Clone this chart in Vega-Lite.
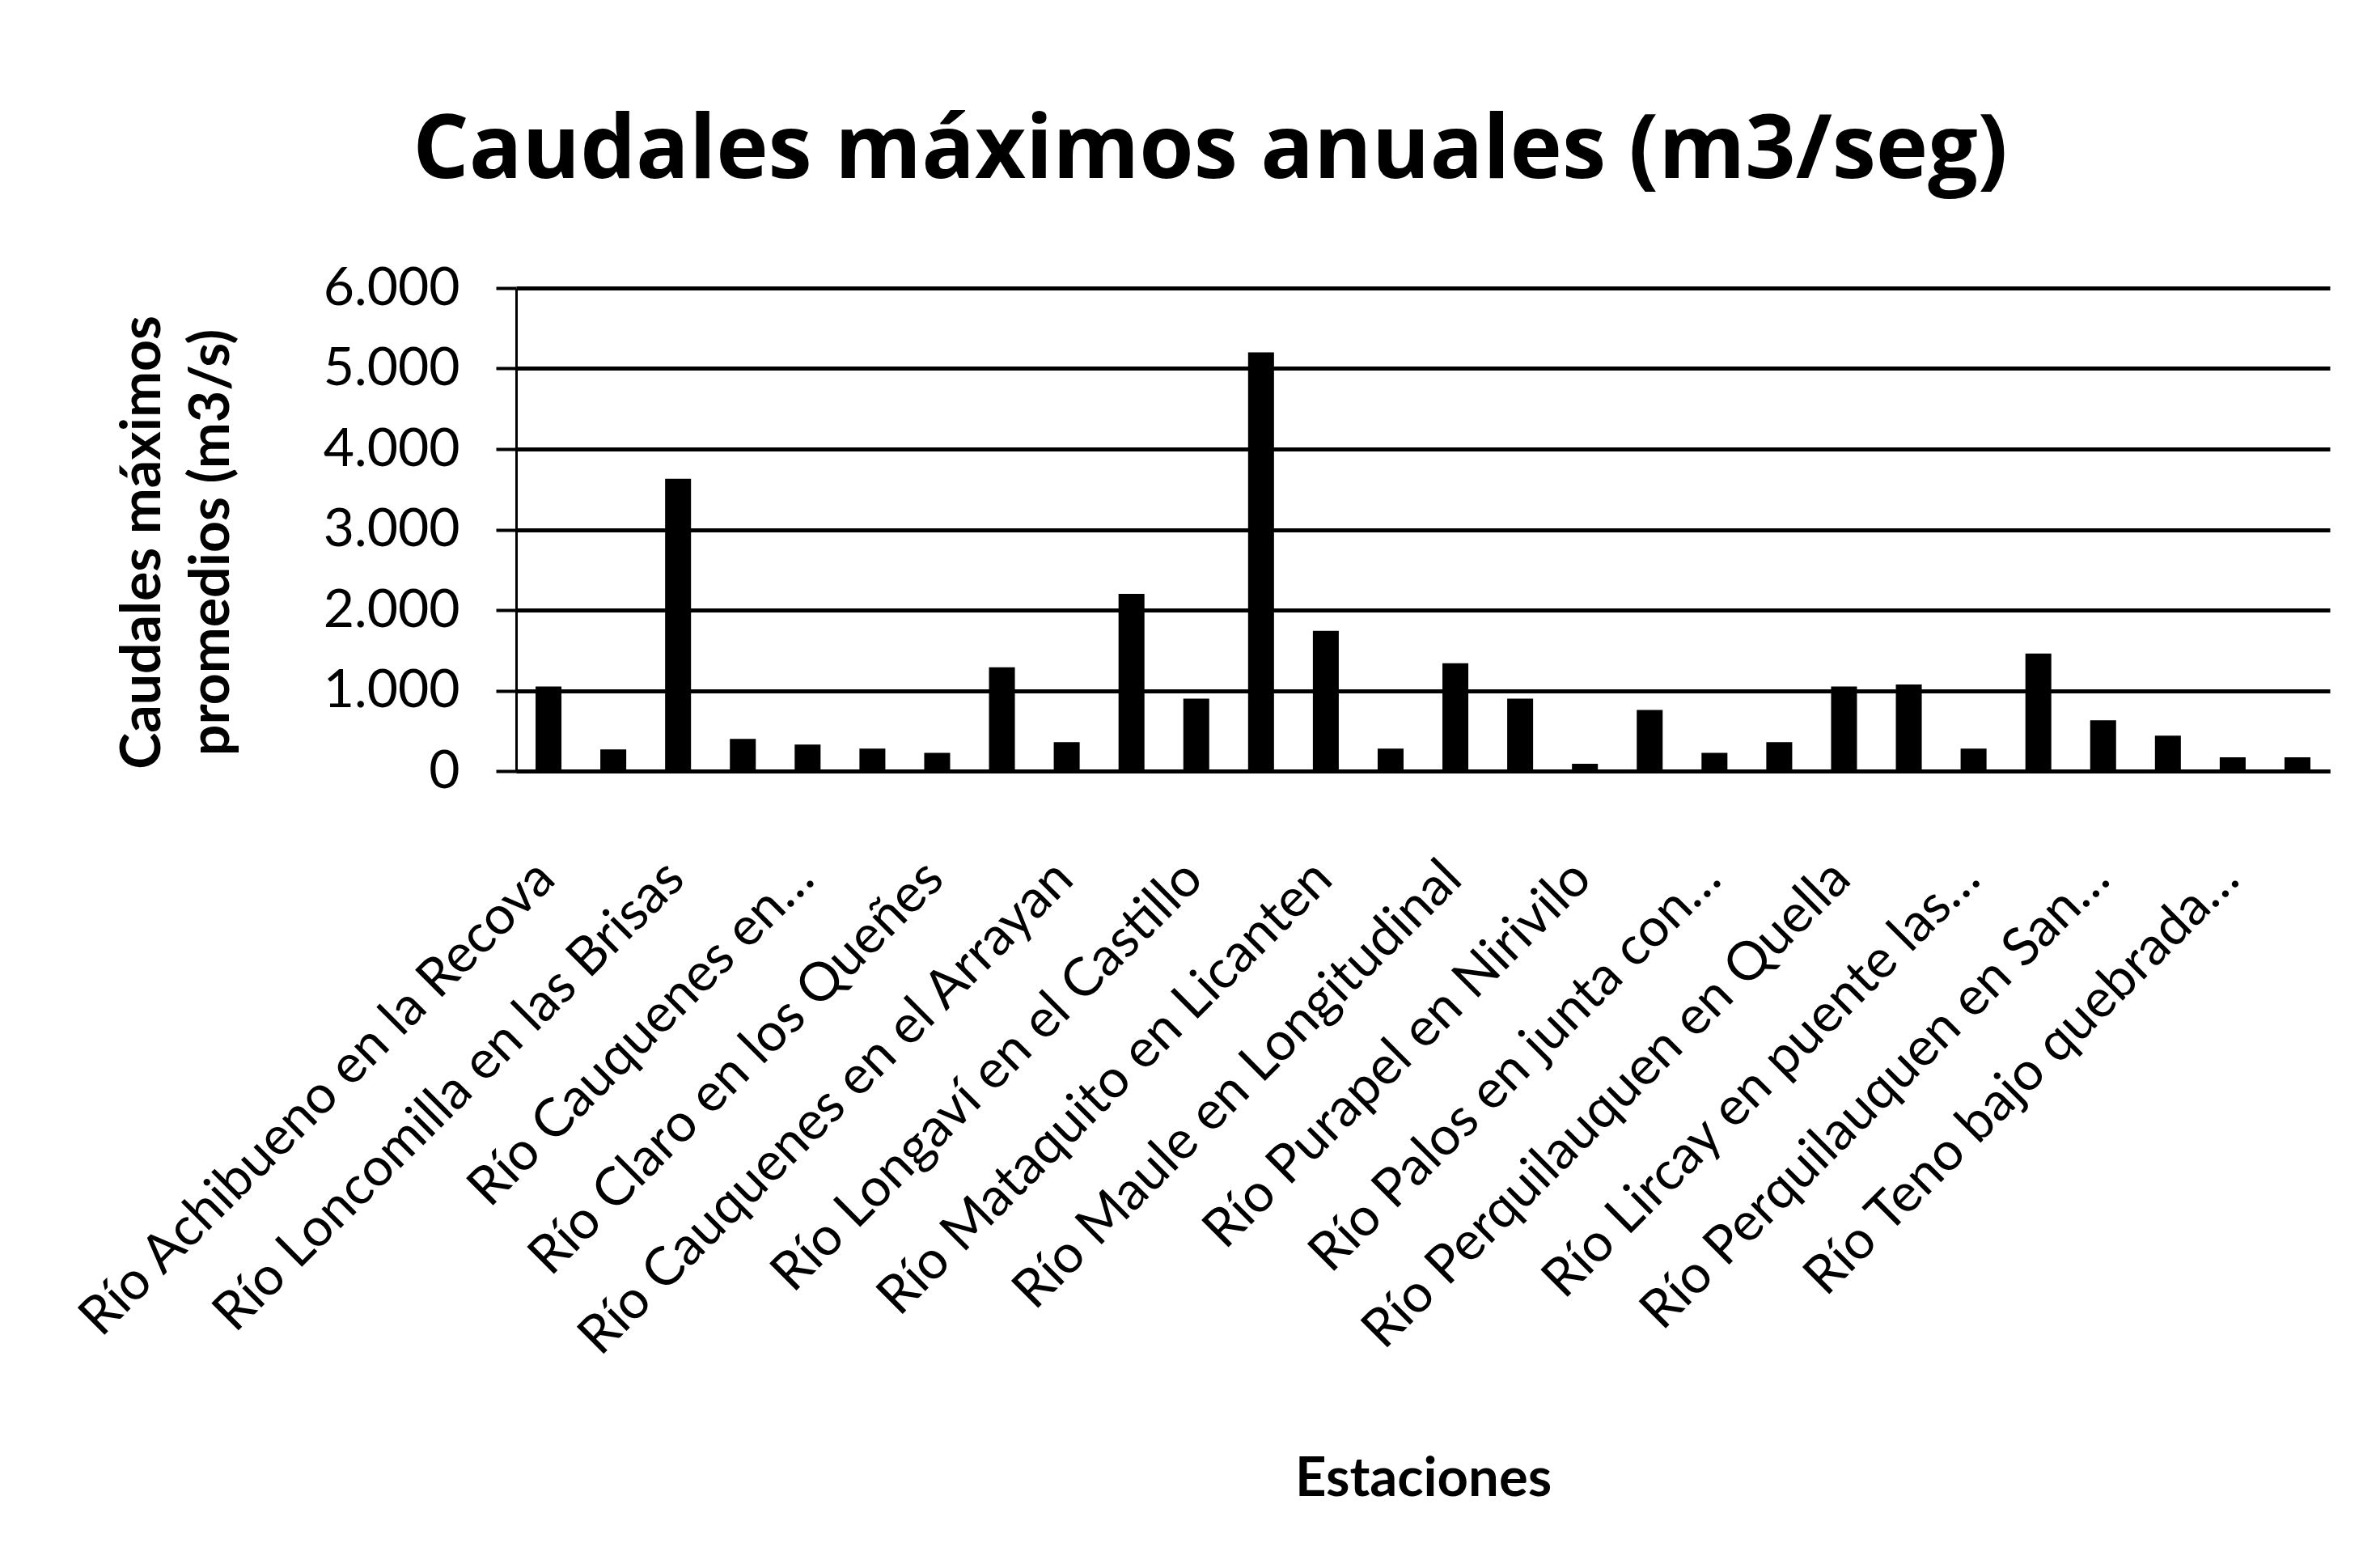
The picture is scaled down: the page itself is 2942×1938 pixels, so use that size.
{
  "$schema": "https://vega.github.io/schema/vega-lite/v6.json",
  "autosize": "none",
  "width": 2242,
  "height": 597,
  "padding": {"left": 638, "top": 356, "right": 62, "bottom": 985},
  "background": "white",
  "title": {
    "text": "Caudales máximos anuales (m3/seg)",
    "font": "Open Sans",
    "fontSize": 109,
    "fontWeight": "bold",
    "color": "black",
    "anchor": "middle",
    "frame": "group",
    "dx": -263,
    "dy": 104,
    "baseline": "alphabetic",
    "offset": 98
  },
  "data": {
    "values": [
      {"estacion": "Río Achibueno en la Recova", "caudal": 1050},
      {"estacion": "Río Ancoa en el Morro", "caudal": 270},
      {"estacion": "Río Loncomilla en las Brisas", "caudal": 3630},
      {"estacion": "Río Longaví en la Quiriquina", "caudal": 400},
      {"estacion": "Río Cauquenes en…", "caudal": 330},
      {"estacion": "Río Claro en Camarico", "caudal": 280},
      {"estacion": "Río Claro en los Queñes", "caudal": 225},
      {"estacion": "Río Colorado en junta con Palos", "caudal": 1290},
      {"estacion": "Río Cauquenes en el Arrayan", "caudal": 360},
      {"estacion": "Río Lontué en Colorado", "caudal": 2200},
      {"estacion": "Río Longaví en el Castillo", "caudal": 900},
      {"estacion": "Río Maule en Armerillo", "caudal": 5200},
      {"estacion": "Río Mataquito en Licanten", "caudal": 1740},
      {"estacion": "Río Melado en el Salto", "caudal": 280},
      {"estacion": "Río Maule en Longitudinal", "caudal": 1340},
      {"estacion": "Río Putagán en Yerbas Buenas", "caudal": 900},
      {"estacion": "Río Purapel en Nirivilo", "caudal": 90},
      {"estacion": "Río Claro en Rauquén", "caudal": 760},
      {"estacion": "Río Palos en junta con…", "caudal": 225},
      {"estacion": "Río Perquilauquen en Ñiquén", "caudal": 360},
      {"estacion": "Río Perquilauquen en Quella", "caudal": 1050},
      {"estacion": "Río Lircay en las Rastras", "caudal": 1075},
      {"estacion": "Río Lircay en puente las…", "caudal": 280},
      {"estacion": "Río Teno después de junta con Claro", "caudal": 1460},
      {"estacion": "Río Perquilauquen en San…", "caudal": 630},
      {"estacion": "Río Uraco en Uraco", "caudal": 440},
      {"estacion": "Río Teno bajo quebrada…", "caudal": 170},
      {"estacion": "Estero Upeo en Upeo", "caudal": 170}
    ]
  },
  "mark": {"type": "bar", "color": "black"},
  "encoding": {
    "x": {
      "field": "estacion",
      "type": "nominal",
      "sort": null,
      "scale": {"paddingInner": 0.6, "paddingOuter": 0.3},
      "axis": {
        "title": "Estaciones",
        "titleFont": "Lato",
        "titleFontSize": 67,
        "titleFontWeight": "bold",
        "titleColor": "black",
        "titleBaseline": "alphabetic",
        "titleY": 895,
        "titleX": 1121,
        "values": [
          "Río Achibueno en la Recova",
          "Río Loncomilla en las Brisas",
          "Río Cauquenes en…",
          "Río Claro en los Queñes",
          "Río Cauquenes en el Arrayan",
          "Río Longaví en el Castillo",
          "Río Mataquito en Licanten",
          "Río Maule en Longitudinal",
          "Río Purapel en Nirivilo",
          "Río Palos en junta con…",
          "Río Perquilauquen en Quella",
          "Río Lircay en puente las…",
          "Río Perquilauquen en San…",
          "Río Teno bajo quebrada…"
        ],
        "labelAngle": -45,
        "labelAlign": "right",
        "labelBaseline": "middle",
        "labelFont": "Lato",
        "labelFontSize": 66,
        "labelColor": "black",
        "labelPadding": 122,
        "labelOffset": -3,
        "labelOverlap": false,
        "labelLimit": 0,
        "ticks": false,
        "domainColor": "black",
        "domainWidth": 5,
        "grid": false
      }
    },
    "y": {
      "field": "caudal",
      "type": "quantitative",
      "scale": {"domain": [0, 6000]},
      "axis": {
        "title": ["Caudales máximos", "promedios (m3/s)"],
        "titleFont": "Lato",
        "titleFontSize": 68,
        "titleFontWeight": "bold",
        "titleColor": "black",
        "titleLineHeight": 85,
        "titleBaseline": "top",
        "titleAlign": "center",
        "titleX": -495,
        "titleY": 314,
        "values": [0, 1000, 2000, 3000, 4000, 5000, 6000],
        "labelExpr": "replace(format(datum.value, ','), ',', '.')",
        "labelFont": "Lato",
        "labelFontSize": 66,
        "labelColor": "black",
        "labelPadding": 45,
        "tickSize": 25,
        "tickColor": "black",
        "tickWidth": 4,
        "domainColor": "black",
        "domainWidth": 3,
        "grid": true,
        "gridColor": "black",
        "gridWidth": 5
      }
    }
  },
  "config": {
    "view": {"stroke": null}
  }
}
